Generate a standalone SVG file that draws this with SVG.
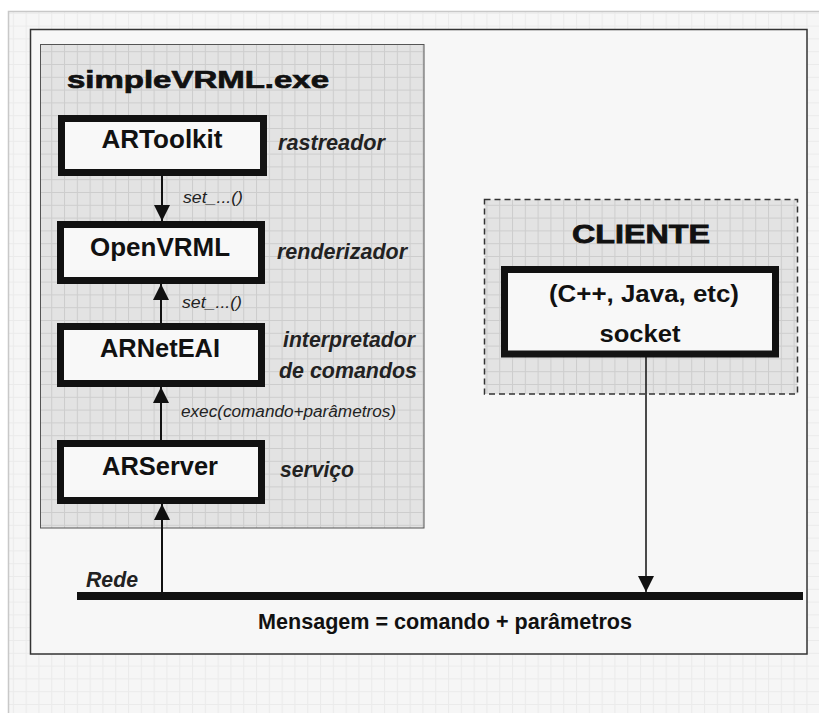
<svg xmlns="http://www.w3.org/2000/svg" width="819" height="713" viewBox="0 0 819 713">
<defs>
<pattern id="pageGrid" width="12.8" height="12.8" patternUnits="userSpaceOnUse">
<rect width="12.8" height="12.8" fill="#f6f6f6"/>
<path d="M0 0.5 H12.8 M0.5 0 V12.8" stroke="#ebebeb" stroke-width="1"/>
</pattern>
<pattern id="boxGrid" width="12.8" height="12.8" patternUnits="userSpaceOnUse">
<rect width="12.8" height="12.8" fill="#e3e3e3"/>
<path d="M0 0.5 H12.8 M0.5 0 V12.8" stroke="#cdcdcd" stroke-width="1"/>
</pattern>
<marker id="arrow" markerUnits="userSpaceOnUse" markerWidth="16" markerHeight="16" viewBox="0 0 16 16" refX="16" refY="8" orient="auto">
<path d="M0 0 L16 8 L0 16 Z" fill="#111"/>
</marker>
</defs>
<style>
.node rect.box{fill:#f8f8f8;stroke:#111;stroke-width:7}
.bt{font-family:"Liberation Sans",Arial,sans-serif;font-weight:bold;fill:#111;text-anchor:middle}
.lab{font-family:"Liberation Sans",Arial,sans-serif;font-weight:bold;font-style:italic;fill:#222;font-size:22px}
.small{font-family:"Liberation Sans",Arial,sans-serif;font-style:italic;fill:#222;font-size:16px}
.conn{stroke:#111;fill:none}
</style>
<rect x="0" y="0" width="819" height="713" fill="#ffffff"/>
<rect x="8.5" y="11.5" width="812" height="703" fill="url(#pageGrid)" stroke="#c8c8c8" stroke-width="1.5"/>
<rect x="30.5" y="29.5" width="776.5" height="624.5" fill="#f7f7f7" stroke="#333" stroke-width="1.5"/>

<g id="simpleVRML">
<rect x="40.5" y="44.5" width="383.5" height="483.5" fill="url(#boxGrid)" stroke="#555" stroke-width="1"/>
<text x="67" y="88" font-family="'Liberation Sans',Arial,sans-serif" font-weight="bold" font-size="24" fill="#111" stroke="#111" stroke-width="0.7" textLength="262" lengthAdjust="spacingAndGlyphs">simpleVRML.exe</text>
</g>

<g id="ARToolkit" class="node">
<rect class="box" x="61.5" y="118.5" width="202" height="54"/>
<text class="bt" x="162" y="148" font-size="26" textLength="121" lengthAdjust="spacingAndGlyphs">ARToolkit</text>
<text class="lab" x="278" y="150" textLength="107" lengthAdjust="spacingAndGlyphs">rastreador</text>
</g>

<g id="OpenVRML" class="node">
<rect class="box" x="60.5" y="224.5" width="201" height="56"/>
<text class="bt" x="160" y="256" font-size="26" textLength="140" lengthAdjust="spacingAndGlyphs">OpenVRML</text>
<text class="lab" x="277" y="259" textLength="130" lengthAdjust="spacingAndGlyphs">renderizador</text>
</g>

<g id="ARNetEAI" class="node">
<rect class="box" x="60.5" y="326.5" width="201" height="57"/>
<text class="bt" x="160" y="357" font-size="26" textLength="120" lengthAdjust="spacingAndGlyphs">ARNetEAI</text>
<text class="lab" x="283" y="347" textLength="132" lengthAdjust="spacingAndGlyphs">interpretador</text>
<text class="lab" x="279" y="378" textLength="138" lengthAdjust="spacingAndGlyphs">de comandos</text>
</g>

<g id="ARServer" class="node">
<rect class="box" x="60.5" y="443.5" width="201" height="57"/>
<text class="bt" x="160" y="475" font-size="26" textLength="116" lengthAdjust="spacingAndGlyphs">ARServer</text>
<text class="lab" x="280" y="477" textLength="74" lengthAdjust="spacingAndGlyphs">serviço</text>
</g>

<g id="CLIENTE">
<rect x="484.5" y="199.5" width="313" height="194.5" fill="url(#boxGrid)" stroke="#333" stroke-width="1.5" stroke-dasharray="6 4"/>
<text class="bt" x="641" y="243" font-size="26" stroke="#111" stroke-width="0.8" textLength="138" lengthAdjust="spacingAndGlyphs">CLIENTE</text>
</g>

<g id="socket" class="node">
<rect class="box" x="504.5" y="269.5" width="271" height="84.5"/>
<text class="bt" x="644" y="302" font-size="23" textLength="190" lengthAdjust="spacingAndGlyphs">(C++, Java, etc)</text>
<text class="bt" x="640" y="342" font-size="23" textLength="81" lengthAdjust="spacingAndGlyphs">socket</text>
</g>

<g id="Rede">
<rect x="77" y="592" width="726" height="8" fill="#111"/>
<text class="lab" x="86" y="587" textLength="52" lengthAdjust="spacingAndGlyphs">Rede</text>
<text class="bt" x="445" y="629" font-size="22" textLength="374" lengthAdjust="spacingAndGlyphs">Mensagem = comando + parâmetros</text>
</g>

<g id="connectors">
<line class="conn" x1="162" y1="176" x2="162" y2="221" stroke-width="2" marker-end="url(#arrow)"/>
<text class="small" x="183" y="203" textLength="60" lengthAdjust="spacingAndGlyphs">set_...()</text>
<line class="conn" x1="161" y1="323" x2="161" y2="284" stroke-width="2" marker-end="url(#arrow)"/>
<text class="small" x="182" y="308" textLength="60" lengthAdjust="spacingAndGlyphs">set_...()</text>
<line class="conn" x1="161" y1="440" x2="161" y2="387" stroke-width="2" marker-end="url(#arrow)"/>
<text class="small" x="181" y="417" textLength="215" lengthAdjust="spacingAndGlyphs">exec(comando+parâmetros)</text>
<line class="conn" x1="162" y1="592" x2="162" y2="504" stroke-width="2" marker-end="url(#arrow)"/>
<line class="conn" x1="646" y1="357" x2="646" y2="592" stroke-width="1.5" marker-end="url(#arrow)"/>
</g>
</svg>
